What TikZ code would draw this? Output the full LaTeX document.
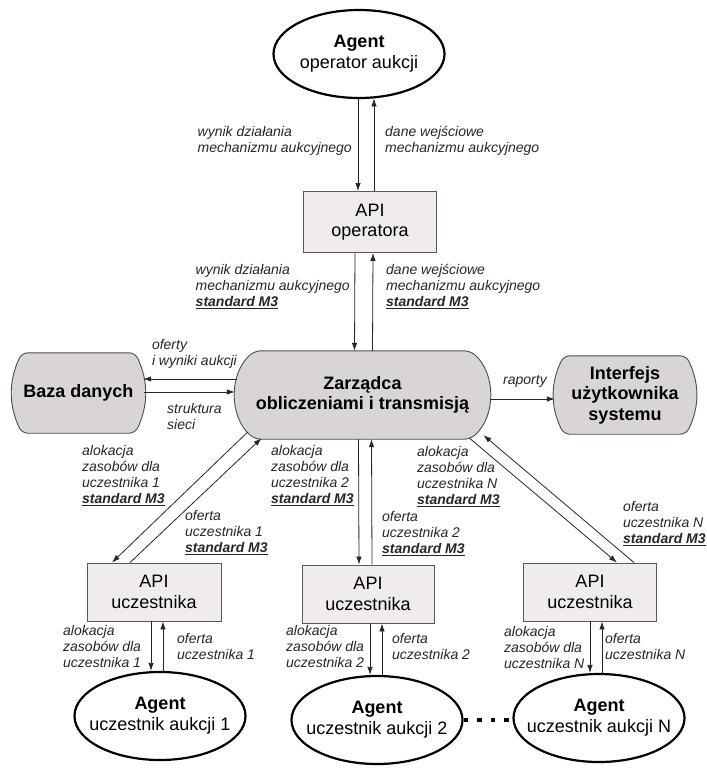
\documentclass[tikz,border=0pt]{standalone}
\usepackage{fontspec}
\setmainfont{Liberation Sans}
\usetikzlibrary{shapes.geometric,arrows.meta,backgrounds}
\definecolor{apifill}{RGB}{240,236,236}
\definecolor{sysfill}{RGB}{217,213,213}
\tikzset{
  agentcell/.style={ellipse, draw=black, line width=2.2pt, fill=white, minimum width=171pt, minimum height=88pt, align=center, inner xsep=-12pt, inner ysep=0pt, font=\fontsize{18}{21}\selectfont},
  apicell/.style={rectangle, draw=black!65, line width=0.9pt, fill=apifill, minimum width=133pt, minimum height=58pt, align=center, font=\fontsize{18}{20.5}\selectfont},
  syscell/.style={rectangle, align=center, font=\fontsize{18}{20.5}\selectfont\bfseries},
  sysshape/.style={draw=black!70, line width=0.9pt, fill=sysfill, rounded corners=6pt},
  flowlabel/.style={inner sep=0pt, align=left, text=black!85, font=\fontsize{14}{16}\selectfont\itshape},
  flowarrow/.style={draw=black!85, line width=0.8pt, -{Latex[length=8pt,width=5.5pt]}}
}
\newcommand{\stdmthree}{\underline{\textbf{standard M3}}}

\begin{document}
\begin{tikzpicture}[x=1pt, y=-1pt]
  \useasboundingbox (0,0) rectangle (707,769);
  \node[agentcell] (agentop) at (359,54) {\textbf{Agent}\\operator aukcji};
  \node[apicell, minimum height=61pt] (apiop) at (370,222) {API\\operatora};
  \node[syscell, minimum width=255pt, minimum height=88pt] (zarz) at (362.5,395) {Zarządca\\obliczeniami i transmisją};
  \node[syscell, minimum width=131pt, minimum height=80pt] (baza) at (78.5,393) {Baza danych};
  \node[syscell, minimum width=140pt, minimum height=78pt] (interf) at (625,395) {Interfejs\\użytkownika\\systemu};
  \node[apicell, minimum width=134pt] (api1) at (154,592) {API\\uczestnika};
  \node[apicell, minimum width=132pt] (api2) at (368,594) {API\\uczestnika};
  \node[apicell] (apiN) at (590,592) {API\\uczestnika};
  \node[agentcell] (ag1) at (160,716) {\textbf{Agent}\\uczestnik aukcji 1};
  \node[agentcell] (ag2) at (377,720) {\textbf{Agent}\\uczestnik aukcji 2};
  \node[agentcell] (agN) at (599,718) {\textbf{Agent}\\uczestnik aukcji N};

  \begin{scope}[on background layer]
    \path[sysshape] (zarz.north) -- ([xshift=-20pt]zarz.north east) to[bend left=49] ([xshift=-20pt]zarz.south east)
      -- ([xshift=20pt]zarz.south west) to[bend left=49] ([xshift=20pt]zarz.north west) -- cycle;
    \path[sysshape] (baza.north) -- ([xshift=-9pt]baza.north east) to[bend left=25] ([xshift=-9pt]baza.south east)
      -- ([xshift=9pt]baza.south west) to[bend left=25] ([xshift=9pt]baza.north west) -- cycle;
    \path[sysshape] (interf.north) -- ([xshift=-9pt]interf.north east) to[bend left=26] ([xshift=-9pt]interf.south east)
      -- ([xshift=9pt]interf.south west) to[bend left=26] ([xshift=9pt]interf.north west) -- cycle;
  \end{scope}

  \draw[flowarrow] ([xshift=-1pt]agentop.south) -- ([xshift=-12pt]apiop.north);
  \draw[flowarrow] ([xshift=4pt]apiop.north) -- ([xshift=15pt,yshift=0.7pt]agentop.south);
  \draw[flowarrow] ([xshift=-15pt]apiop.south) -- ([xshift=-8pt]zarz.north);
  \draw[flowarrow] ([xshift=10pt]zarz.north) -- ([xshift=3pt]apiop.south);
  \draw[flowarrow] ([xshift=2.5pt,yshift=16pt]zarz.west) -- ([xshift=-1pt,yshift=14pt]baza.east);
  \draw[flowarrow] ([yshift=1pt]baza.east) -- ([yshift=3pt]zarz.west);
  \draw[flowarrow] ([yshift=-4pt]zarz.east) -- ([yshift=-4pt]interf.west);
  \draw[flowarrow] ([xshift=-115pt,yshift=7pt]zarz.south) -- ([xshift=-42pt]api1.north);
  \draw[flowarrow] ([xshift=-24pt]api1.north) -- ([xshift=-101pt,yshift=1pt]zarz.south);
  \draw[flowarrow] ([xshift=-4pt]zarz.south) -- ([xshift=-9pt]api2.north);
  \draw[flowarrow] ([xshift=4pt]api2.north) -- ([xshift=9pt]zarz.south);
  \draw[flowarrow] ([xshift=107pt,yshift=1pt]zarz.south) -- ([xshift=27pt]apiN.north);
  \draw[flowarrow] ([xshift=44pt]apiN.north) -- ([xshift=121pt,yshift=4pt]zarz.south);
  \draw[flowarrow] ([xshift=-3pt]api1.south) -- ([xshift=-9pt]ag1.north);
  \draw[flowarrow] ([xshift=3pt]ag1.north) -- ([xshift=9pt]api1.south);
  \draw[flowarrow] ([xshift=2pt]api2.south) -- ([xshift=-7pt]ag2.north);
  \draw[flowarrow] ([xshift=5pt]ag2.north) -- ([xshift=14pt]api2.south);
  \draw[flowarrow] (apiN.south) -- ([xshift=-9pt]agN.north);
  \draw[flowarrow] ([xshift=3pt]agN.north) -- ([xshift=12pt]apiN.south);
  \draw[line width=4pt, dash pattern=on 4.5pt off 9pt] (ag2.east) -- (ag2.east -| agN.west);

  \node[flowlabel, anchor=north east] (lbwynik) at (352,126) {wynik działania\\mechanizmu aukcyjnego};
  \node[flowlabel, anchor=north west] (lbdane) at (385,126) {dane wejściowe\\mechanizmu aukcyjnego};
  \node[flowlabel, anchor=north east] (lbwynikm) at (350,264) {wynik działania\\mechanizmu aukcyjnego\\\stdmthree};
  \node[flowlabel, anchor=north west] (lbdanem) at (386,264) {dane wejściowe\\mechanizmu aukcyjnego\\\stdmthree};
  \node[flowlabel, anchor=north east] (lboferty) at (237,339) {oferty\\i wyniki aukcji};
  \node[flowlabel, anchor=north west] (lbstrukt) at (167,403) {struktura\\sieci};
  \node[flowlabel, anchor=north west] (lbraport) at (503,375) {raporty};
  \node[flowlabel, anchor=north west] (lbalok1) at (82,445) {alokacja\\zasobów dla\\uczestnika 1\\\stdmthree};
  \node[flowlabel, anchor=north west] (lboferta1) at (185,510) {oferta\\uczestnika 1\\\stdmthree};
  \node[flowlabel, anchor=north west] (lbalok2) at (271,445) {alokacja\\zasobów dla\\uczestnika 2\\\stdmthree};
  \node[flowlabel, anchor=north west] (lboferta2) at (382,511) {oferta\\uczestnika 2\\\stdmthree};
  \node[flowlabel, anchor=north west] (lbalokN) at (417,446) {alokacja\\zasobów dla\\uczestnika N\\\stdmthree};
  \node[flowlabel, anchor=north west] (lbofertaN) at (623,501) {oferta\\uczestnika N\\\stdmthree};
  \node[flowlabel, anchor=north west] (lbdol1) at (63,625) {alokacja\\zasobów dla\\uczestnika 1};
  \node[flowlabel, anchor=north west] (lbof1) at (177,633) {oferta\\uczestnika 1};
  \node[flowlabel, anchor=north west] (lbdol2) at (286,625) {alokacja\\zasobów dla\\uczestnika 2};
  \node[flowlabel, anchor=north west] (lbof2) at (392,633) {oferta\\uczestnika 2};
  \node[flowlabel, anchor=north west] (lbdolN) at (504,626) {alokacja\\zasobów dla\\uczestnika N};
  \node[flowlabel, anchor=north west] (lbofN) at (605,633) {oferta\\uczestnika N};
\end{tikzpicture}
\end{document}
